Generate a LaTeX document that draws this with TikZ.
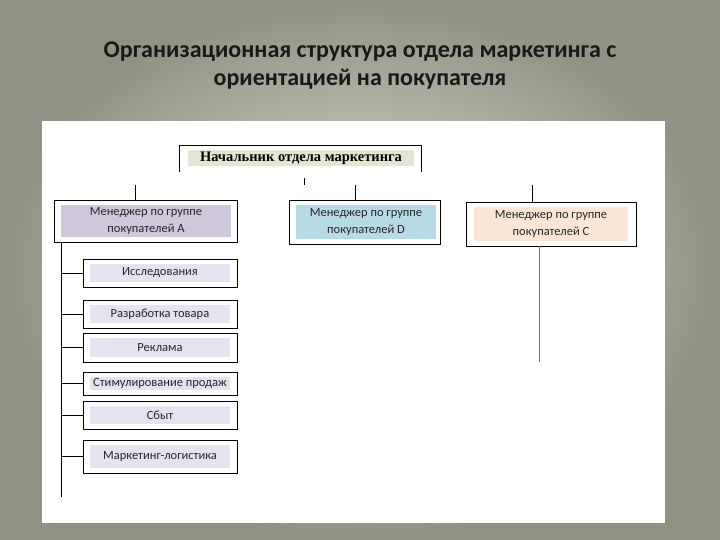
\documentclass[tikz,border=0pt]{standalone}
\usepackage{fontspec}
\setmainfont{Carlito}
\newfontfamily\serifb{Liberation Serif}
\begin{document}
\begin{tikzpicture}[x=1pt,y=-1pt,
  outer/.style={draw=black,line width=0.9pt},
  conn/.style={draw=black,line width=0.8pt},
  lbl/.style={font=\fontsize{12.5}{17}\selectfont,align=center,text=black!85}]
\useasboundingbox (0,0) rectangle (720,540);
\shade[inner color={rgb,255:red,222;green,222;blue,210},outer color={rgb,255:red,145;green,145;blue,132}] (0,0) rectangle (720,540);
\fill[white] (42,121) rectangle (665,523);
\node[font=\fontsize{24}{28}\selectfont\bfseries,align=center,text=black!90] (title) at (360,66) {Организационная структура отдела маркетинга с\\ориентацией на покупателя};
% top
\fill[fill={rgb,255:red,227;green,230;blue,208}] (188,150) rectangle (414,166);
\draw[outer] (179,172) -- (179,145) -- (421,145) -- (421,172);
\node[font=\serifb\bfseries\fontsize{14.5}{16}\selectfont] (top) at (301,158) {Начальник отдела маркетинга};
\coordinate (tick1) at (304,178); \coordinate (tick2) at (304,185);
\draw[conn] (tick1) -- (tick2);
% managers
\fill[fill={rgb,255:red,207;green,199;blue,220}] (61,205) rectangle (231,237);
\draw[outer] (54,200) rectangle (237,242);
\node[lbl] (ma) at (146,221) {Менеджер по группе\\покупателей А};
\fill[fill={rgb,255:red,183;green,219;blue,230}] (296,205) rectangle (436,239);
\draw[outer] (289,200) rectangle (440,244);
\node[lbl] (mb) at (366,222) {Менеджер по группе\\покупателей D};
\fill[fill={rgb,255:red,251;green,229;blue,214}] (474,207) rectangle (628,241);
\draw[outer] (466,202) rectangle (636,246);
\node[lbl] (mc) at (551,224) {Менеджер по группе\\покупателей С};
\coordinate (a0) at (135,185); \coordinate (a1) at (135,200);
\coordinate (b0) at (355,185); \coordinate (b1) at (355,200);
\coordinate (c0) at (532,185); \coordinate (c1) at (532,202);
\draw[conn] (a0)--(a1); \draw[conn] (b0)--(b1); \draw[conn] (c0)--(c1);
\coordinate (cd0) at (539,246); \coordinate (cd1) at (539,362);
\draw[line width=0.8pt,draw=black!55] (cd0)--(cd1);
\coordinate (v0) at (61,242); \coordinate (v1) at (61,497);
\draw[conn] (v0)--(v1);
% sub boxes
\foreach \t/\yt/\yb/\name in {Исследования/259/287/s1, Разработка товара/300/328/s2, Реклама/333/362/s3, Стимулирование продаж/372/395/s4, Сбыт/401/429/s5, Маркетинг-логистика/440/473/s6}{
  \fill[fill={rgb,255:red,230;green,227;blue,240}] (90,\yt+5) rectangle (230,\yb-5);
  \draw[outer] (83,\yt) rectangle (237,\yb);
  \node[lbl] (\name) at (160,{(\yt+\yb)/2}) {\t};
  \draw[conn] (61,{(\yt+\yb)/2}) -- (\name.west -| 83,0);
}
\end{tikzpicture}
\end{document}
